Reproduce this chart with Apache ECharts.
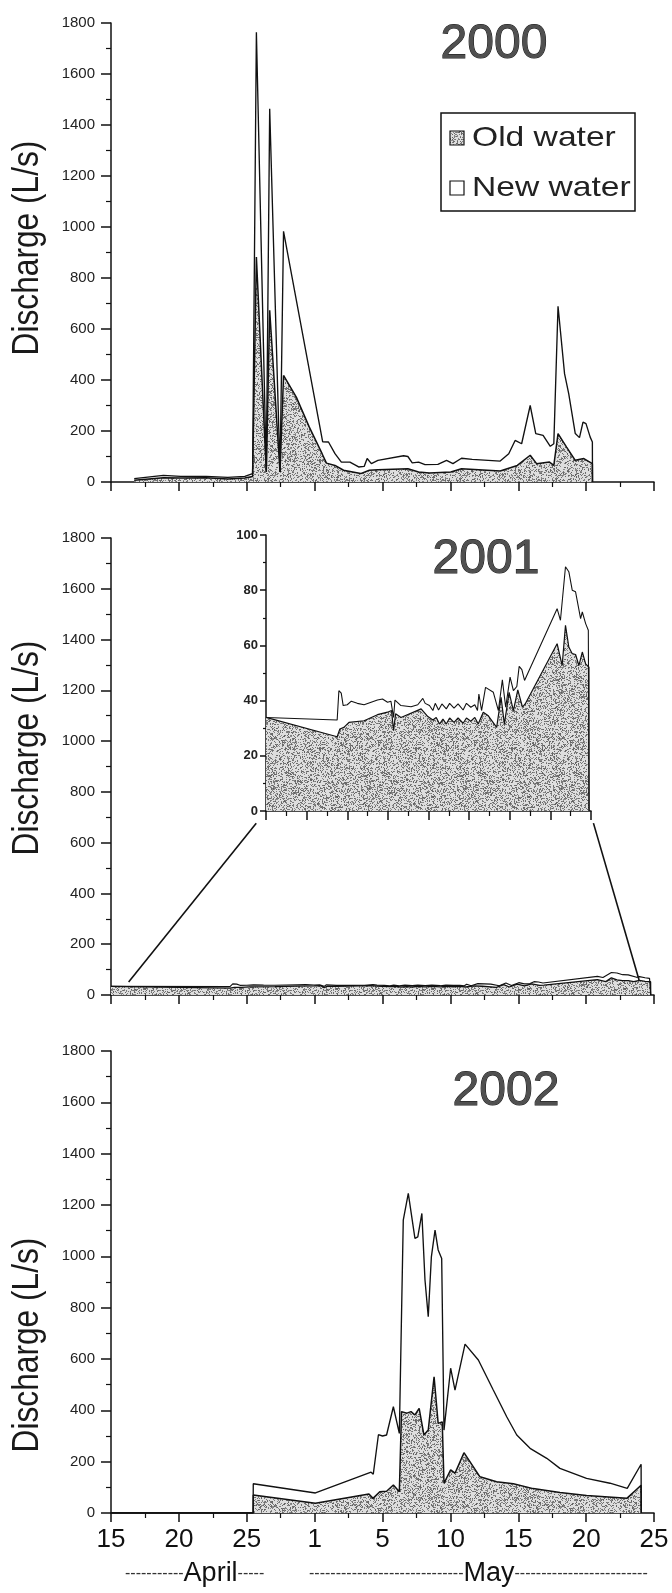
<!DOCTYPE html>
<html>
<head>
<meta charset="utf-8">
<script src="https://cdn.jsdelivr.net/npm/echarts@6/dist/echarts.min.js"></script>
<style>
html,body{margin:0;padding:0;background:#fff;}
#c{width:672px;height:1593px;}
</style>
</head>
<body>
<div id="c"></div>
<script>
// ---------- DATA (x = day of year: 105 = 15 April, 120 = 30 April/"1" May ...) ----------
const xTickLabels = ['15','20','25','1','5','10','15','20','25'];
const yearLabels = ['2000','2001','2002'];
const legendLabels = ['Old water','New water'];
const monthLabels = ['April','May'];

// 2000 total discharge (old + new)
const days2000Total = [106.71,108.86,110.12,112.02,113.6,114.86,115.43,115.56,115.71,116.44,116.69,117.45,117.71,120.59,121.02,121.5,121.97,122.6,123.24,123.65,123.87,124.18,124.66,126.55,126.87,127.19,127.66,128.13,129.08,129.72,130.19,130.82,131.61,133.67,134.3,134.77,135.25,135.88,136.29,136.83,137.36,137.62,137.93,138.41,138.72,139.2,139.51,139.77,139.99,140.3,140.46,140.47];
const q2000Total    = [13,26,22,22,18,22,33,35,1764,39,1464,39,983,158,157,111,78,78,59,61,92,72,85,103,100,75,78,68,69,85,72,93,89,82,111,163,150,300,190,183,140,150,689,425,346,190,174,235,229,176,157,0];
// 2000 old water
const days2000Old = [106.71,108.86,110.12,112.02,113.6,114.86,115.43,115.56,115.71,116.44,116.69,117.45,117.71,118.65,119.6,120.55,120.87,121.5,122.13,123.39,124.03,124.66,126.87,127.66,128.45,130.03,130.82,133.67,134.93,135.88,136.35,137.3,137.62,137.93,138.56,139.2,139.83,140.46,140.47];
const q2000Old    = [7,17,16,17,12,16,22,26,882,39,673,39,418,333,216,111,74,65,46,33,46,48,52,39,35,39,52,43,65,105,72,78,65,190,137,85,92,72,0];

// 2001 total discharge
const days2001Total = [105,113.76,113.97,114.26,114.5,115.0,115.5,116.24,117.07,118.72,119.34,119.96,120.37,120.7,120.87,121.61,122.85,123.68,124.3,124.59,125.12,125.54,125.83,126.24,126.65,127.19,127.6,128.14,128.64,129.26,129.67,130.21,130.7,131.03,131.2,131.53,132.02,132.98,133.6,134.09,134.5,135.04,135.45,135.87,136.16,136.49,136.82,140.83,141.24,141.86,142.27,142.69,143.1,143.72,143.93,144.34,144.67,144.75,144.76];
const q2001Total    = [33.9,33.0,43.6,42.7,38.2,38.5,39.8,39.0,38.5,40.2,40.6,39.4,39.8,33.9,40.2,38.2,37.8,38.5,40.8,39.0,38.2,36.4,39.0,36.6,38.8,37.0,39.0,37.3,38.8,36.6,39.0,37.6,38.5,36.4,42.4,36.4,44.8,43.0,36.4,47.5,37.6,48.5,43.6,45.1,52.4,51.2,47.3,73.3,69.1,88.5,86.7,80.0,79.4,69.7,72.1,67.9,65.5,66.1,0];
// 2001 old water
const days2001Old = [105,113.76,114.09,114.59,115.21,117.07,118.72,119.96,120.45,120.7,120.95,121.61,124.09,124.92,125.54,125.95,126.36,126.78,127.19,127.6,128.14,128.64,129.26,129.67,130.21,130.7,131.12,131.74,132.36,133.39,133.93,134.34,134.92,135.45,135.99,136.57,136.9,140.83,141.45,141.86,142.27,142.69,143.1,143.51,143.93,144.34,144.75,144.76];
const q2001Old    = [33.9,26.9,29.7,30.3,32.1,32.7,34.9,35.8,36.4,29.1,35.2,33.9,37.0,34.2,33.0,33.9,31.5,33.3,31.5,33.7,32.1,33.7,31.8,33.7,32.5,33.9,31.5,35.8,34.5,30.3,41.2,31.5,43.0,36.4,43.9,37.6,38.8,60.6,52.7,67.3,59.4,57.0,56.7,52.7,57.6,53.3,52.1,0];

// 2002 total discharge
const days2002Total = [105,115.47,115.48,120.06,124.16,124.32,124.7,125.0,125.3,125.8,126.24,126.53,126.9,127.39,127.6,127.9,128.13,128.37,128.6,128.87,129.1,129.36,129.53,130.02,130.34,131.08,132.06,133.16,134.15,134.89,135.87,137.1,138.07,140.03,141.76,143.03,144.05,144.06];
const q2002Total    = [0,0,114,78,159,151,305,300,304,414,310,1141,1245,1070,1076,1167,908,765,998,1102,1025,992,323,564,479,658,596,479,375,304,252,213,174,135,116,96,190,0];
// 2002 old water
const days2002Old = [105,115.47,115.48,120.06,124.0,124.3,124.8,125.3,125.8,126.24,126.4,126.8,127.1,127.39,127.7,128.05,128.37,128.8,129.1,129.4,129.53,130.02,130.34,131.0,132.18,133.4,134.64,136.1,138.07,140.03,143.0,144.05,144.06];
const q2002Old    = [0,0,70,38,74,57,83,85,109,83,395,389,395,382,408,304,323,531,349,355,116,168,155,235,141,122,114,95,80,68,57,108,0];

// ---------- helpers ----------
const zip = (xs, ys) => xs.map((x, i) => [x, ys[i]]);
const FONT = 'Liberation Sans, Arial, Helvetica, sans-serif';

function makeStipple() {
  const n = 96, c = document.createElement('canvas');
  c.width = n; c.height = n;
  const ctx = c.getContext('2d');
  const img = ctx.createImageData(n, n);
  for (let j = 0; j < n; j++) for (let i = 0; i < n; i++) {
    let h = Math.sin(i * 12.9898 + j * 78.233) * 43758.5453; h = h - Math.floor(h);
    const g = h < 0.36 ? 95 + Math.floor(h * 140) : 222;
    const k = (j * n + i) * 4;
    img.data[k] = img.data[k + 1] = img.data[k + 2] = g; img.data[k + 3] = 255;
  }
  ctx.putImageData(img, 0, 0);
  return c;
}
const stipple = { image: makeStipple(), repeat: 'repeat' };

function xAxis(gi, showLabel) {
  return {
    type: 'value', gridIndex: gi, min: 105, max: 145, interval: 5,
    axisLine: { onZero: false, lineStyle: { color: '#111', width: 1.5 } },
    axisTick: { length: 9, lineStyle: { color: '#111', width: 1.5 } },
    minorTick: { show: true, splitNumber: 2, length: 5, lineStyle: { color: '#111', width: 1.2 } },
    splitLine: { show: false },
    axisLabel: {
      show: showLabel, margin: 14, color: '#111', fontSize: 26, fontFamily: FONT,
      formatter: v => xTickLabels[Math.round((v - 105) / 5)]
    }
  };
}
function yAxis(gi, max, interval, fs, margin, tickLen, bold) {
  return {
    type: 'value', gridIndex: gi, min: 0, max: max, interval: interval,
    axisLine: { show: true, lineStyle: { color: '#111', width: 1.5 } },
    axisTick: { show: true, length: tickLen, lineStyle: { color: '#111', width: 1.5 } },
    minorTick: { show: true, splitNumber: 2, length: Math.round(tickLen / 2), lineStyle: { color: '#111', width: 1.2 } },
    splitLine: { show: false },
    axisLabel: { margin: margin, color: '#222', fontSize: fs, fontFamily: FONT, fontWeight: bold ? 'bold' : 'normal',
      formatter: v => String(v) }
  };
}
function pair(ai, old, total, w) {
  return [
    { type: 'line', xAxisIndex: ai, yAxisIndex: ai, data: old, showSymbol: false, symbol: 'none',
      lineStyle: { color: '#111', width: w }, areaStyle: { color: stipple, opacity: 1 }, z: 2, silent: true },
    { type: 'line', xAxisIndex: ai, yAxisIndex: ai, data: total, showSymbol: false, symbol: 'none',
      lineStyle: { color: '#111', width: w * 0.9 }, z: 3, silent: true }
  ];
}

const chart = echarts.init(document.getElementById('c'), null, { renderer: 'canvas' });
const option = {
  animation: false,
  backgroundColor: '#fff',
  grid: [
    { left: 111, top: 23, width: 543, height: 459 },
    { left: 111, top: 538, width: 543, height: 457 },
    { left: 266, top: 535, width: 325, height: 276 },
    { left: 111, top: 1051, width: 543, height: 462 }
  ],
  xAxis: [xAxis(0, false), xAxis(1, false), xAxis(2, false), xAxis(3, true)],
  yAxis: [
    yAxis(0, 1800, 200, 15, 16, 10, false),
    yAxis(1, 1800, 200, 15, 16, 10, false),
    yAxis(2, 100, 20, 13, 8, 6, true),
    yAxis(3, 1800, 200, 15, 16, 10, false)
  ],
  series: [].concat(
    pair(0, zip(days2000Old, q2000Old), zip(days2000Total, q2000Total), 1.5),
    pair(1, zip(days2001Old, q2001Old), zip(days2001Total, q2001Total), 1.3),
    pair(2, zip(days2001Old, q2001Old), zip(days2001Total, q2001Total), 1.2),
    pair(3, zip(days2002Old, q2002Old), zip(days2002Total, q2002Total), 1.5)
  )
};
chart.setOption(option);

// ---------- annotations ----------
const px = (ai, v) => chart.convertToPixel({ xAxisIndex: ai, yAxisIndex: ai }, v);
const a1 = px(1, [106.3, 51]), b1 = px(2, [103.8, -4.4]);
const a2 = px(1, [143.9, 59]), b2 = px(2, [145.3, -4.4]);

function yearText(t, x, y) {
  return { type: 'text', x: x, y: y, z: 10,
    style: { text: t, font: '48px ' + FONT, fill: '#505050', stroke: '#111', lineWidth: 1, align: 'center', verticalAlign: 'middle' } };
}
function yTitle(y) {
  return { type: 'text', x: 28, y: y, rotation: Math.PI / 2, scaleX: 0.88, z: 10,
    style: { text: 'Discharge (L/s)', font: '36px ' + FONT, fill: '#1a1a1a', align: 'center', verticalAlign: 'middle' } };
}
function monthText(x, nLeft, name, nRight) {
  return { type: 'text', x: x, y: 1574, z: 10, style: {
      text: '{d|' + '-'.repeat(nLeft) + '}{m|' + name + '}{d|' + '-'.repeat(nRight) + '}',
      align: 'left', verticalAlign: 'middle',
      rich: { d: { font: '16px ' + FONT, fill: '#333' }, m: { font: '27px ' + FONT, fill: '#111' } } } };
}
const graphics = [
  yearText(yearLabels[0], 494, 45),
  yearText(yearLabels[1], 486, 560),
  yearText(yearLabels[2], 506, 1092),
  yTitle(248), yTitle(748), yTitle(1345),
  { type: 'line', shape: { x1: a1[0], y1: a1[1], x2: b1[0], y2: b1[1] }, style: { stroke: '#111', lineWidth: 1.6 }, z: 5 },
  { type: 'line', shape: { x1: a2[0], y1: a2[1], x2: b2[0], y2: b2[1] }, style: { stroke: '#111', lineWidth: 1.6 }, z: 5 },
  // legend
  { type: 'rect', shape: { x: 441, y: 113, width: 194, height: 98 }, style: { fill: '#fff', stroke: '#111', lineWidth: 1.5 }, z: 10 },
  { type: 'rect', shape: { x: 450, y: 131, width: 14, height: 14 }, style: { fill: stipple, stroke: '#111', lineWidth: 1.2 }, z: 11 },
  { type: 'rect', shape: { x: 450, y: 181, width: 14, height: 14 }, style: { fill: '#fff', stroke: '#111', lineWidth: 1.2 }, z: 11 },
  { type: 'text', x: 472, y: 138, scaleX: 1.2, z: 11, style: { text: legendLabels[0], font: '28px ' + FONT, fill: '#222', align: 'left', verticalAlign: 'middle' } },
  { type: 'text', x: 472, y: 188, scaleX: 1.2, z: 11, style: { text: legendLabels[1], font: '28px ' + FONT, fill: '#222', align: 'left', verticalAlign: 'middle' } },
  // month labels
  monthText(125, 11, monthLabels[0], 5),
  monthText(309, 29, monthLabels[1], 25)
];
chart.setOption({ graphic: graphics });
</script>
</body>
</html>
